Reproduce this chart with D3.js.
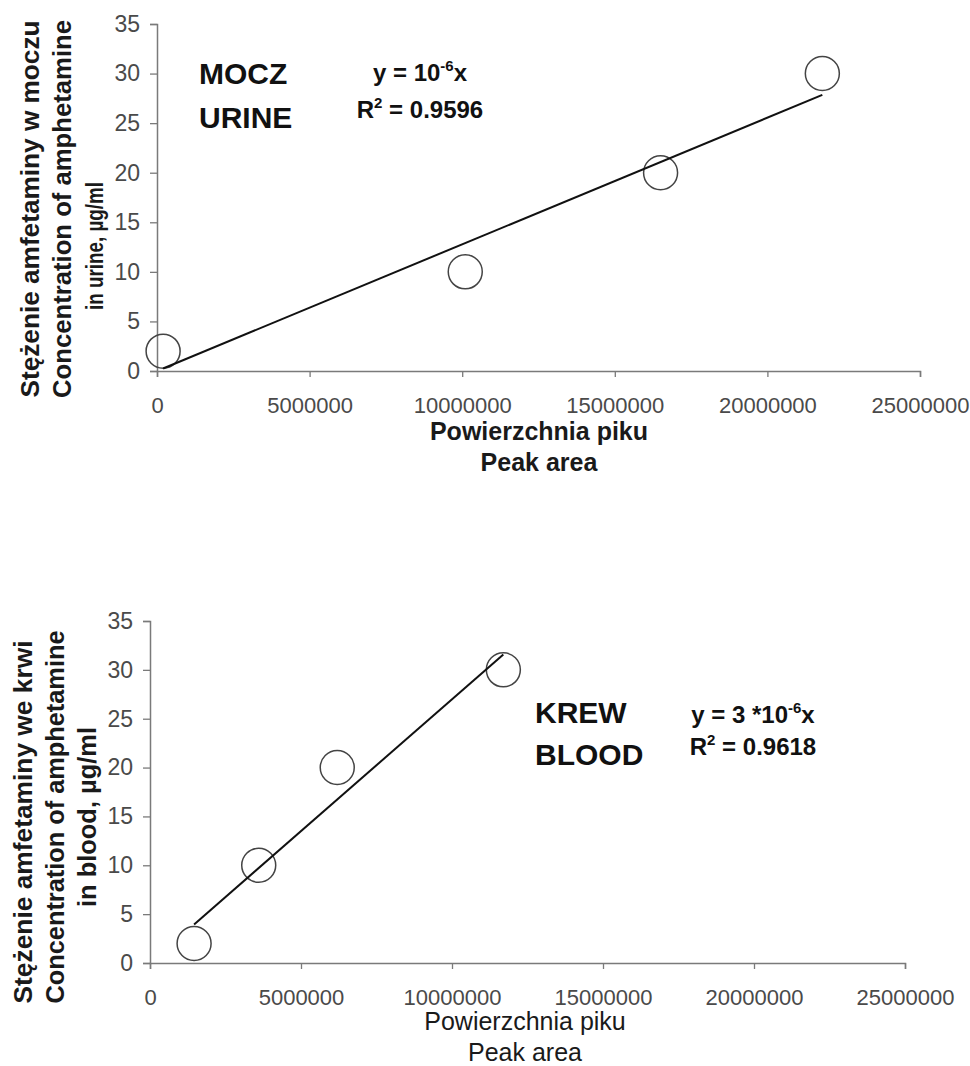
<!DOCTYPE html>
<html>
<head>
<meta charset="utf-8">
<script src="https://cdn.jsdelivr.net/npm/d3@7"></script>
<style>
	body { margin: 0; background: #fff; }
	svg { display: block; }
	text { font-family: "Liberation Sans", Arial, sans-serif; }
</style>
</head>
<body>
<svg id="chart"></svg>
<script>
const xTicks = [0, 5000000, 10000000, 15000000, 20000000, 25000000];
const yTicks = [0, 5, 10, 15, 20, 25, 30, 35];

// urine calibration (peak area vs concentration)
const urineArea = [200000, 10100000, 16500000, 21800000];
const urineConc = [2, 10, 20, 30];
const urineTitle = ['MOCZ', 'URINE'];
const urineYLabel = ['Stężenie amfetaminy w moczu', 'Concentration of amphetamine', 'in urine, µg/ml'];
const urineR2 = '0.9596';

// blood calibration
const bloodArea = [1460000, 3600000, 6200000, 11700000];
const bloodConc = [2, 10, 20, 30];
const bloodTitle = ['KREW', 'BLOOD'];
const bloodYLabel = ['Stężenie amfetaminy we krwi', 'Concentration of amphetamine', 'in blood, µg/ml'];
const bloodR2 = '0.9618';

const xLabel = ['Powierzchnia piku', 'Peak area'];

const width = 970, height = 1066;
const svg = d3.select('#chart').attr('width', width).attr('height', height);

// least squares through origin, like the excel trendline
const slopeThroughOrigin = (xs, ys) => d3.sum(xs, (x, i) => x * ys[i]) / d3.sum(xs, x => x * x);

const drawChart = (cfg) => {
	const g = svg.append('g');
	const x = d3.scaleLinear().domain([0, 25000000]).range(cfg.xRange);
	const y = d3.scaleLinear().domain([0, 35]).range(cfg.yRange);

	const yAxis = g.append('g')
		.attr('transform', `translate(${cfg.xRange[0]},0)`)
		.call(d3.axisLeft(y).tickValues(yTicks).tickSize(7).tickSizeOuter(7).tickPadding(10));
	const xAxis = g.append('g')
		.attr('transform', `translate(0,${cfg.yRange[0]})`)
		.call(d3.axisBottom(x).tickValues(xTicks).tickFormat(d3.format('d')).tickSize(6).tickSizeOuter(6).tickPadding(20));

	[xAxis, yAxis].forEach(a => {
		a.select('.domain').attr('stroke', '#7a7a7a').attr('stroke-width', 1.5);
		a.selectAll('.tick line').attr('stroke', '#7a7a7a').attr('stroke-width', 1.3);
	});
	yAxis.selectAll('.tick text').attr('font-size', 23).attr('fill', '#4a4a4a');
	xAxis.selectAll('.tick text').attr('font-size', 22).attr('fill', '#4a4a4a');

	// points
	g.selectAll('circle.pt')
		.data(cfg.area)
		.join('circle')
		.attr('class', 'pt')
		.attr('cx', d => x(d))
		.attr('cy', (d, i) => y(cfg.conc[i]))
		.attr('r', 17)
		.attr('fill', 'none')
		.attr('stroke', '#444')
		.attr('stroke-width', 1.5);

	// trendline
	const k = slopeThroughOrigin(cfg.area, cfg.conc);
	const ext = d3.extent(cfg.area);
	g.append('line')
		.attr('x1', x(ext[0])).attr('y1', y(k * ext[0]))
		.attr('x2', x(ext[1])).attr('y2', y(k * ext[1]))
		.attr('stroke', '#111')
		.attr('stroke-width', 2);

	// y title, three rotated lines
	cfg.yLabel.forEach((t, i) => {
		const p = cfg.yLabelPos[i];
		g.append('text')
			.attr('transform', `translate(${p[0]},${p[1]}) rotate(-90)`)
			.attr('text-anchor', 'middle')
			.attr('font-size', p[3] || 26)
			.attr('font-weight', 'bold')
			.attr('fill', '#1a1a1a')
			.attr('textLength', p[2])
			.attr('lengthAdjust', 'spacingAndGlyphs')
			.text(t);
	});

	// x title
	xLabel.forEach((t, i) => {
		g.append('text')
			.attr('x', cfg.xLabelPos[0])
			.attr('y', cfg.xLabelPos[1] + i * 31)
			.attr('text-anchor', 'middle')
			.attr('font-size', 25)
			.attr('font-weight', cfg.xLabelWeight)
			.attr('fill', '#1a1a1a')
			.text(t);
	});

	// sample name
	cfg.title.forEach((t, i) => {
		g.append('text')
			.attr('x', cfg.titlePos[0])
			.attr('y', cfg.titlePos[1] + i * cfg.titleGap)
			.attr('font-size', 30)
			.attr('font-weight', 'bold')
			.attr('fill', '#111')
			.text(t);
	});

	// equation
	const eq = g.append('text')
		.attr('x', cfg.eqPos[0]).attr('y', cfg.eqPos[1])
		.attr('text-anchor', 'middle')
		.attr('font-size', 24).attr('font-weight', 'bold').attr('fill', '#111');
	eq.append('tspan').text(cfg.eqPrefix);
	eq.append('tspan').attr('dy', -10).attr('font-size', 15).text('-6');
	eq.append('tspan').attr('dy', 10).text('x');

	const r2 = g.append('text')
		.attr('x', cfg.eqPos[0]).attr('y', cfg.eqPos[1] + cfg.eqGap)
		.attr('text-anchor', 'middle')
		.attr('font-size', 24).attr('font-weight', 'bold').attr('fill', '#111');
	r2.append('tspan').text('R');
	r2.append('tspan').attr('dy', -10).attr('font-size', 15).text('2');
	r2.append('tspan').attr('dy', 10).text(' = ' + cfg.r2);
};

drawChart({
	area: urineArea, conc: urineConc,
	xRange: [157, 920], yRange: [371, 24],
	yLabel: urineYLabel,
	yLabelPos: [[39, 209, 377], [71, 209, 378], [103, 246, 128, 24]],
	xLabelPos: [539, 440], xLabelWeight: 'bold',
	title: urineTitle, titlePos: [199, 84], titleGap: 44,
	eqPrefix: 'y = 10', eqPos: [420, 81], eqGap: 37, r2: urineR2
});

drawChart({
	area: bloodArea, conc: bloodConc,
	xRange: [150, 905], yRange: [963, 621],
	yLabel: bloodYLabel,
	yLabelPos: [[32, 822, 363], [64, 817, 373], [96, 817, 180]],
	xLabelPos: [525, 1030], xLabelWeight: 'normal',
	title: bloodTitle, titlePos: [535, 723], titleGap: 42,
	eqPrefix: 'y = 3 *10', eqPos: [753, 723], eqGap: 32, r2: bloodR2
});
</script>
</body>
</html>
